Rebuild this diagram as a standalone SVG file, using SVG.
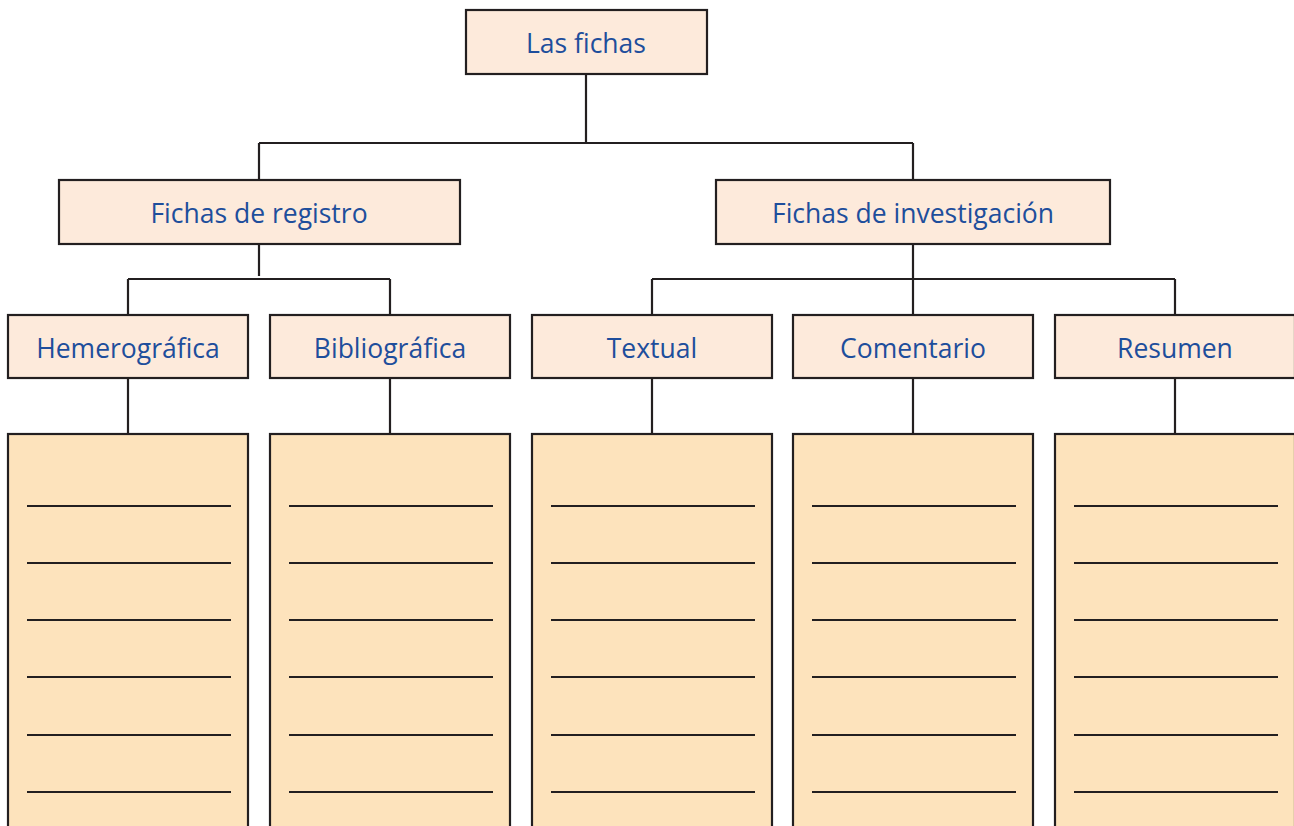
<svg xmlns="http://www.w3.org/2000/svg" width="1294" height="826" viewBox="0 0 1294 826">
<style>
.box{fill:#FDEADB;stroke:#231F20;stroke-width:2.2}
.card{fill:#FDE3BC;stroke:#231F20;stroke-width:2.2}
.rule{stroke:#231F20;stroke-width:2.2}
.conn{fill:none;stroke:#231F20;stroke-width:2.2}
text{font-family:"Open Sans","Noto Sans",sans-serif;font-size:26.5px;fill:#1E4E9C;text-anchor:middle}
</style>
<rect width="1294" height="826" fill="#FFFFFF"/>
<g id="connectors">
<path class="conn" d="M586 74V143M259 143H913M259 143V180M913 143V180"/>
<path class="conn" d="M259 244V276M128 279H390M128 279V315M390 279V315"/>
<path class="conn" d="M913 244V315M652 279H1175M652 279V315M1175 279V315"/>
<path class="conn" d="M128 378V434M390 378V434M652 378V434M913 378V434M1175 378V434"/>
</g>
<g id="n-las-fichas"><rect class="box" x="466" y="10" width="241" height="64"/><text x="586" y="53">Las fichas</text></g>
<g id="n-registro"><rect class="box" x="59" y="180" width="401" height="64"/><text x="259" y="223">Fichas de registro</text></g>
<g id="n-investigacion"><rect class="box" x="716" y="180" width="394" height="64"/><text x="913" y="223">Fichas de investigación</text></g>
<g id="n-hemerografica"><rect class="box" x="8" y="315" width="240" height="63"/><text x="128" y="358">Hemerográfica</text></g>
<g id="n-bibliografica"><rect class="box" x="270" y="315" width="240" height="63"/><text x="390" y="358">Bibliográfica</text></g>
<g id="n-textual"><rect class="box" x="532" y="315" width="240" height="63"/><text x="652" y="358">Textual</text></g>
<g id="n-comentario"><rect class="box" x="793" y="315" width="240" height="63"/><text x="913" y="358">Comentario</text></g>
<g id="n-resumen"><rect class="box" x="1055" y="315" width="240" height="63"/><text x="1175" y="358">Resumen</text></g>
<defs>
<g id="lines">
<path class="rule" d="M19 506H223M19 563H223M19 620H223M19 677H223M19 735H223M19 792H223"/>
</g>
</defs>
<g id="card-hemerografica"><rect class="card" x="8" y="434" width="240" height="400"/><use href="#lines" x="8"/></g>
<g id="card-bibliografica"><rect class="card" x="270" y="434" width="240" height="400"/><use href="#lines" x="270"/></g>
<g id="card-textual"><rect class="card" x="532" y="434" width="240" height="400"/><use href="#lines" x="532"/></g>
<g id="card-comentario"><rect class="card" x="793" y="434" width="240" height="400"/><use href="#lines" x="793"/></g>
<g id="card-resumen"><rect class="card" x="1055" y="434" width="240" height="400"/><use href="#lines" x="1055"/></g>
</svg>
